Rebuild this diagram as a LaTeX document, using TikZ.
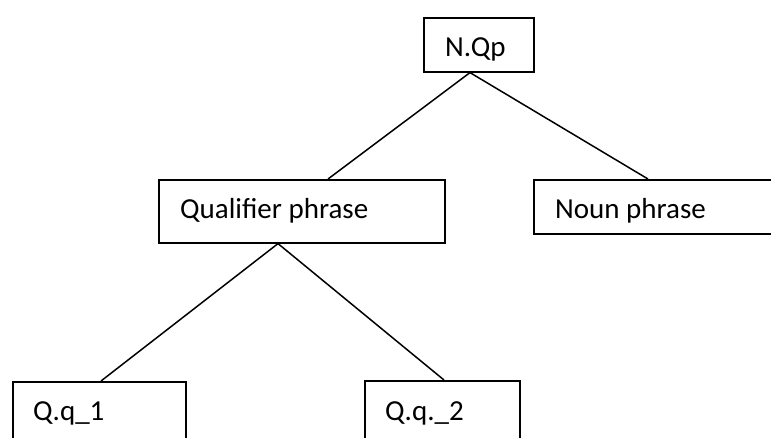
\documentclass[tikz,border=0pt]{standalone}
\usepackage{fontspec}
\setmainfont{Carlito}
\begin{document}
\begin{tikzpicture}[x=1pt,y=-1pt,
  box/.style={draw=black, line width=1.6pt, rectangle, anchor=north west, inner sep=0pt},
  lbl/.style={anchor=base west, inner sep=0pt, font=\fontsize{29}{34}\selectfont},
  edge/.style={draw=black, line width=1.5pt}]
\useasboundingbox (0,0) rectangle (771,437);
\clip (0,0) rectangle (771,437);
\fill[white] (0,0) rectangle (771,437);
% boxes
\node[box, minimum width=110pt, minimum height=54pt] (nqp) at (423,17) {};
\node[box, minimum width=286pt, minimum height=63pt] (qp) at (158,179) {};
\node[box, minimum width=260pt, minimum height=54pt] (np) at (533,179) {};
\node[box, minimum width=173pt, minimum height=90pt] (q1) at (12,381) {};
\node[box, minimum width=155pt, minimum height=90pt] (q2) at (364,380) {};
% labels
\node[lbl] (tnqp) at (445,56) {N.Qp};
\node[lbl] (tqp) at (180,218) {Qualifier phrase};
\node[lbl] (tnp) at (555,218) {Noun phrase};
\node[lbl] (tq1) at (33,420) {Q.q\_1};
\node[lbl] (tq2) at (385,420) {Q.q.\_2};
% connectors
\draw[edge] ([xshift=47pt]nqp.south west) -- ([xshift=170pt]qp.north west);
\draw[edge] ([xshift=47pt]nqp.south west) -- ([xshift=115pt]np.north west);
\draw[edge] ([xshift=120pt]qp.south west) -- ([xshift=89pt]q1.north west);
\draw[edge] ([xshift=120pt]qp.south west) -- ([xshift=80pt]q2.north west);
\end{tikzpicture}
\end{document}
